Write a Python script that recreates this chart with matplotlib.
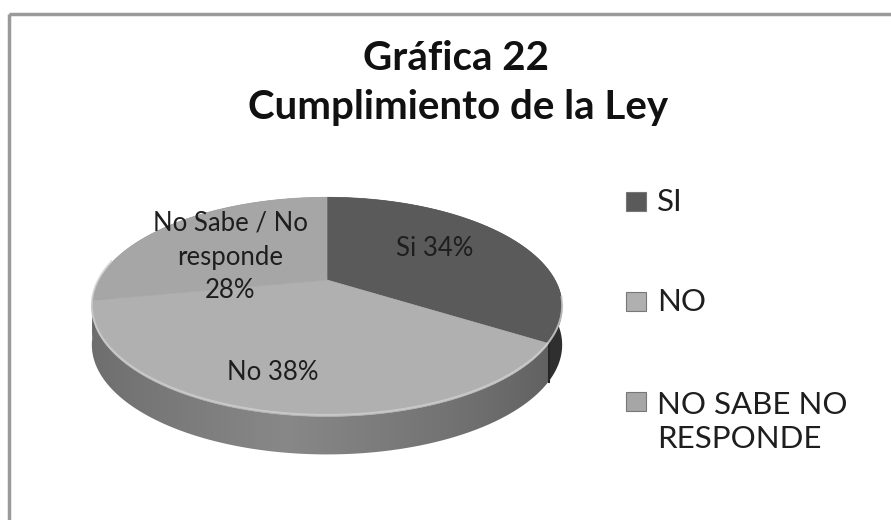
import numpy as np
import matplotlib
matplotlib.use('Agg')
import matplotlib.pyplot as plt
from matplotlib.patches import Polygon, Rectangle

plt.rcParams['font.family'] = ['Lato', 'DejaVu Sans']

# data
labels = ['SI', 'NO', 'NO SABE NO\nRESPONDE']
slice_labels = ['Si 34%', 'No 38%', 'No Sabe / No\nresponde\n28%']
values = [34, 38, 28]
top_colors = ['#5a5a5a', '#b0b0b0', '#a6a6a6']
side_colors = ['#3a3a3a', '#777777', '#6e6e6e']

W, H = 891, 520
fig = plt.figure(figsize=(W / 100, H / 100), dpi=100)
ax = fig.add_axes([0, 0, 1, 1])
ax.set_xlim(0, W)
ax.set_ylim(H, 0)
ax.axis('off')

# frame (right/bottom edges cut off in the original)
ax.add_patch(Rectangle((9, 14), 900, 600, fill=False, ec='#9a9a9a', lw=2.5))

# 3d pie geometry (pixel space, simple perspective)
cx, cy = 327, 280
rx, ry = 228, 103
k = 0.245
depth = 38


def proj(theta):
    # theta in degrees clockwise from the top
    t = np.deg2rad(theta)
    u, v = np.sin(t), np.cos(t)
    d = 1 + k * v
    return cx + rx * u / d, cy - ry * v / d


bounds = np.concatenate([[0], np.cumsum(values) / np.sum(values) * 360])

# horizontal shading profile for the side wall
xs = np.linspace(80, 580, 500)
uu = (xs - 285) / 260
shade = 0.82 + 0.32 * np.clip(1 - np.abs(uu), 0, 1) ** 0.8

# side walls with gradient
for i in range(len(values)):
    a0, a1 = bounds[i], bounds[i + 1]
    ts = np.linspace(a0, a1, 300)
    top = np.array([proj(t) for t in ts])
    bot = top[::-1] + [0, depth]
    poly = Polygon(np.vstack([top, bot]), closed=True, fc='none', ec='none')
    ax.add_patch(poly)
    base = np.array(matplotlib.colors.to_rgb(side_colors[i]))
    img = np.clip(base[None, None, :] * shade[None, :, None], 0, 1)
    im = ax.imshow(img, extent=(80, 580, 470, 180), aspect='auto',
                   interpolation='bilinear', zorder=1)
    im.set_clip_path(poly)

# darker edge where the SI and NO walls meet
xe, ye = proj(bounds[1])
ax.plot([xe, xe], [ye, ye + depth], color='#262626', lw=1.5, zorder=1.5)

# top faces
for i in range(len(values)):
    a0, a1 = bounds[i], bounds[i + 1]
    ts = np.linspace(a0, a1, 200)
    pts = [(cx, cy)] + [proj(t) for t in ts]
    ax.add_patch(Polygon(pts, closed=True, fc=top_colors[i], ec=top_colors[i],
                         lw=0.5, zorder=2))

# light bevel along the front edge
ts = np.linspace(100, 280, 300)
rim = np.array([proj(t) for t in ts])
ax.plot(rim[:, 0], rim[:, 1] - 1.5, color='#cfcfcf', lw=1.4, alpha=0.8, zorder=2.5)

# slice labels
label_pos = [(435, 248), (273, 372), (230, 257)]
for (x, y), s in zip(label_pos, slice_labels):
    ax.text(x, y, s, ha='center', va='center', fontsize=18.5, color='#1e1e1e',
            linespacing=1.45, zorder=3)

# title
ax.text(456, 58, 'Gráfica 22', ha='center', va='center', fontsize=29,
        fontweight='bold', color='#111111')
ax.text(458, 108, 'Cumplimiento de la Ley', ha='center', va='center', fontsize=29,
        fontweight='bold', color='#111111')

# legend
leg_y = [202, 302, 422]
for i, (lab, y) in enumerate(zip(labels, leg_y)):
    sy = y - 20 if '\n' in lab else y
    ax.add_patch(Rectangle((626, sy - 10), 20, 19, fc=top_colors[i], ec='#777777', lw=0.8))
    ax.text(657, y, lab, ha='left', va='center', fontsize=22.5, color='#1e1e1e',
            linespacing=1.3)

fig.savefig('out.png', dpi=100)
